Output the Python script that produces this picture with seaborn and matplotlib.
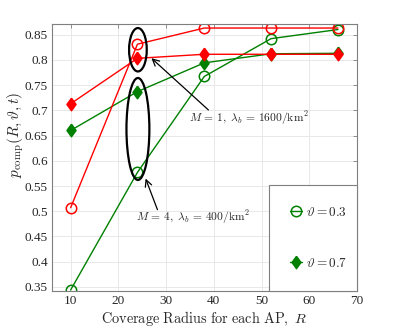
import numpy as np
import pandas as pd
import matplotlib
matplotlib.use("Agg")
import matplotlib.pyplot as plt
from matplotlib.patches import Ellipse
from matplotlib.lines import Line2D
import seaborn as sns

# ---- data ----
radius = [10, 24, 38, 52, 66]
m1_theta03 = [0.507, 0.831, 0.863, 0.863, 0.863]   # red circles  (M=1, 1600/km^2)
m1_theta07 = [0.713, 0.803, 0.811, 0.811, 0.811]   # red diamonds
m4_theta03 = [0.344, 0.577, 0.767, 0.842, 0.860]   # green circles (M=4, 400/km^2)
m4_theta07 = [0.660, 0.737, 0.794, 0.812, 0.813]   # green diamonds
xticks = [10, 20, 30, 40, 50, 60, 70]
yticks = [0.35, 0.4, 0.45, 0.5, 0.55, 0.6, 0.65, 0.7, 0.75, 0.8, 0.85]
legend_labels = [r"$\vartheta = 0.3$", r"$\vartheta = 0.7$"]
annot1 = r"$M\,=\,1,\ \lambda_b\,=\,1600/\mathrm{km}^2$"
annot2 = r"$M\,=\,4,\ \lambda_b\,=\,400/\mathrm{km}^2$"

sns.set_theme(style="whitegrid")
plt.rcParams.update({
    "font.family": ["Liberation Serif", "DejaVu Serif"],
    "mathtext.fontset": "cm",
    "axes.edgecolor": "#7f7f7f",
    "axes.linewidth": 0.8,
    "grid.color": "#e8e8e8",
    "grid.linewidth": 0.7,
    "xtick.direction": "in",
    "ytick.direction": "in",
})

RED = "#ff0000"
GREEN = "#008000"
diamond = [(0, 1), (0.72, 0), (0, -1), (-0.72, 0), (0, 1)]

fig = plt.figure(figsize=(3.95, 3.28), dpi=100)
ax = fig.add_axes([52/395, 37/328, 305/395, 267/328])

series = [
    (m4_theta03, GREEN, "o", "none", 7.5),
    (m4_theta07, GREEN, diamond, GREEN, 9.0),
    (m1_theta03, RED, "o", "none", 7.5),
    (m1_theta07, RED, diamond, RED, 9.0),
]
for vals, col, mk, mfc, ms in series:
    df = pd.DataFrame({"R": radius, "p": vals})
    sns.lineplot(data=df, x="R", y="p", ax=ax, color=col, marker=mk,
                 markersize=ms, markerfacecolor=mfc, markeredgecolor=col,
                 markeredgewidth=1.1, linewidth=1.0, legend=False)

ax.set_xlim(6.1, 70)
ax.set_ylim(0.342, 0.871)
ax.set_xticks(xticks)
ax.set_yticks(yticks)
ax.set_xticklabels([str(t) for t in xticks])
ax.set_yticklabels([f"{t:g}" for t in yticks])
ax.tick_params(axis="both", labelsize=9.5, length=3, width=0.6,
               color="#7f7f7f", top=True, right=True, pad=3)
for s in ax.spines.values():
    s.set_visible(True)
    s.set_color("#7f7f7f")

ax.set_xlabel(r"$\mathrm{Coverage\ Radius\ for\ each\ AP,}\ R$", fontsize=10.3, labelpad=1)
ax.set_ylabel(r"$p_{\mathrm{comp}}(R,\vartheta,t)$", fontsize=11)
ax.yaxis.set_label_coords(-0.085, 0.584)

# ellipses
ax.add_patch(Ellipse((24.1, 0.820), 3.7, 0.086, fill=False, edgecolor="black", lw=1.6, zorder=5))
ax.add_patch(Ellipse((24.1, 0.663), 4.8, 0.202, fill=False, edgecolor="black", lw=1.6, zorder=5))

# annotations
ax.annotate("", xy=(26.5, 0.807), xytext=(39.3, 0.697),
            arrowprops=dict(arrowstyle="->", color="black", lw=0.9))
ax.text(34.7, 0.684, annot1, fontsize=8.3, va="center", ha="left")
ax.annotate("", xy=(25.5, 0.570), xytext=(28.4, 0.498),
            arrowprops=dict(arrowstyle="->", color="black", lw=0.9))
ax.text(23.8, 0.488, annot2, fontsize=8.3, va="center", ha="left")

# legend
handles = [
    Line2D([], [], color=GREEN, marker="o", markerfacecolor="none",
           markeredgecolor=GREEN, markersize=7.5, markeredgewidth=1.1, lw=1.0),
    Line2D([], [], color=GREEN, marker=diamond, markerfacecolor=GREEN,
           markeredgecolor=GREEN, markersize=9.0, lw=1.0),
]
leg = ax.legend(handles, legend_labels, loc="lower left",
                bbox_to_anchor=(0.711, 0.0, 0.289, 0.40), mode="expand",
                borderaxespad=0, fontsize=9.5, labelspacing=2.9, borderpad=1.6,
                handlelength=0.9, handletextpad=0.3, fancybox=False,
                framealpha=1, edgecolor="#7f7f7f")
leg.get_frame().set_linewidth(0.8)

fig.savefig("out.png", dpi=100)
